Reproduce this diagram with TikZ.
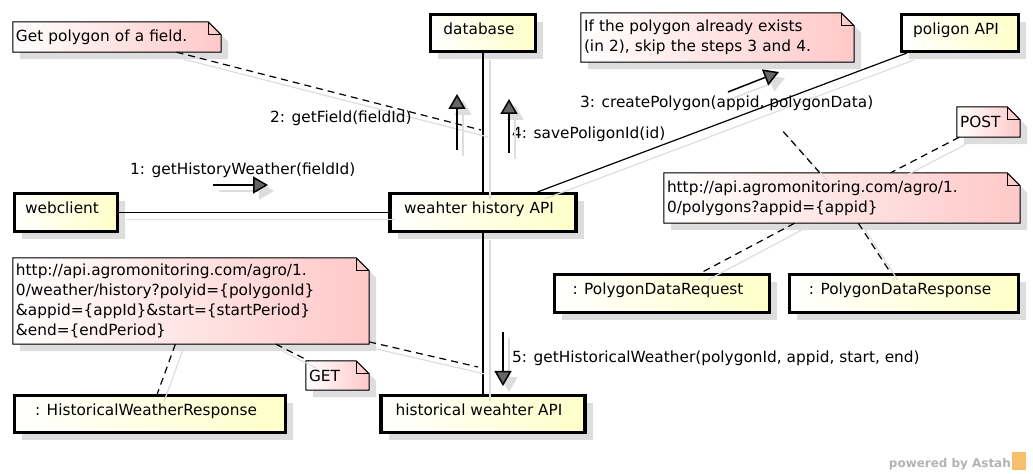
\documentclass[tikz,border=0pt]{standalone}
\usepackage{fontspec}
\setmainfont{DejaVu Sans}
\usetikzlibrary{arrows.meta,shadows,backgrounds}
\definecolor{objyellow}{RGB}{255,255,200}
\definecolor{notepink}{RGB}{255,200,200}
\definecolor{shadowgray}{RGB}{221,221,221}
\definecolor{logoorange}{RGB}{247,190,110}

% note body with the folded corner (and its shadow), behind the note text
\newcommand{\foldnote}[1]{%
  \begin{scope}[on background layer]
    \fill[shadowgray,transform canvas={shift={(7bp,-7bp)}}] (#1.north west) -- ([xshift=-13bp]#1.north east)
      -- ([yshift=-13bp]#1.north east) -- (#1.south east) -- (#1.south west) -- cycle;
    \filldraw[notebody] (#1.north west) -- ([xshift=-13bp]#1.north east)
      -- ([yshift=-13bp]#1.north east) -- (#1.south east) -- (#1.south west) -- cycle;
    \draw[line width=1bp] ([xshift=-13bp]#1.north east) |- ([yshift=-13bp]#1.north east);
  \end{scope}}

\begin{document}
\begin{tikzpicture}[x=1bp,y=-1bp,
    every node/.style={font=\fontsize{15.4}{20}\selectfont},
    obj/.style={draw,line width=3.2bp,left color=white,right color=objyellow,
      inner sep=0pt,text height=11bp,text depth=8bp,execute at end node=\hspace*{8bp},
      general shadow={fill=shadowgray,shadow xshift=7.5bp,shadow yshift=-7.5bp}},
    note/.style={inner xsep=3bp,inner ysep=0pt,align=left},
    notebody/.style={draw,line width=1bp,left color=white,right color=notepink},
    lbl/.style={anchor=base west,inner sep=0pt},
    link/.style={line width=1.2bp},
    linkshadow/.style={draw=shadowgray,line width=1.2bp,transform canvas={shift={(7bp,-7bp)}}},
    anchorline/.style={line width=1.2bp,dash pattern=on 7bp off 5bp},
    msg/.style={line width=1.5bp,-{Triangle[length=15bp,width=17bp,fill=black!60]}},
    msgshadow/.style={draw=shadowgray,line width=1.5bp,-{Triangle[length=15bp,width=17bp,fill=shadowgray]},
      transform canvas={shift={(6bp,-6bp)}}}]
    \useasboundingbox (0,0) rectangle (1033,474);

    % objects
    \node[obj,minimum width=105bp,minimum height=37bp] (dbase) at (483,33) {database};
    \node[obj,minimum width=117bp,minimum height=37bp] (polyapi) at (960,33) {poligon API};
    \node[obj,minimum width=103bp,minimum height=38bp] (web) at (66,212.5) {webclient};
    \node[obj,minimum width=186bp,minimum height=38bp] (whapi) at (483,212.5) {weahter history API};
    \node[obj,minimum width=204bp,minimum height=37bp] (hwapi) at (483,414) {historical weahter API};
    \node[obj,minimum width=271bp,minimum height=37bp] (hwresp) at (150,414) {: HistoricalWeatherResponse};
    \node[obj,minimum width=215bp,minimum height=38bp] (pdreq) at (662,293.5) {: PolygonDataRequest};
    \node[obj,minimum width=229bp,minimum height=38bp] (pdresp) at (904,293.5) {: PolygonDataResponse};

    % notes
    \node[note,text width=202bp,minimum height=30bp] (nField) at (117,37) {Get polygon of a field.};
    \foldnote{nField}
    \node[note,text width=267bp,minimum height=49bp] (nSkip) at (717.5,37.5)
      {If the polygon already exists\\(in 2), skip the steps 3 and 4.};
    \foldnote{nSkip}
    \node[note,text width=57bp,minimum height=30bp] (nPost) at (988.5,122) {POST};
    \foldnote{nPost}
    \node[note,text width=350bp,minimum height=50bp] (nPolyUrl) at (842,198)
      {http://api.agromonitoring.com/agro/1.\\0/polygons?appid=\{appid\}};
    \foldnote{nPolyUrl}
    \node[note,text width=350bp,minimum height=86bp] (nHistUrl) at (191,301)
      {http://api.agromonitoring.com/agro/1.\\0/weather/history?polyid=\{polygonId\}\\
       \&appid=\{appId\}\&start=\{startPeriod\}\\\&end=\{endPeriod\}};
    \foldnote{nHistUrl}
    \node[note,text width=57bp,minimum height=29bp] (nGet) at (337.5,375.5) {GET};
    \foldnote{nGet}

    % links
    \foreach \a/\b in {web/whapi,dbase/whapi,whapi/hwapi,whapi/polyapi} {
      \draw[linkshadow] (\a) -- (\b);
      \draw[link] (\a) -- (\b);
    }

    % note anchors
    \coordinate (p2) at (481,130);
    \coordinate (p3) at (780,128);
    \coordinate (p5) at (478,367);
    \foreach \a/\b in {nField/p2,nPolyUrl/p3,nPost/nPolyUrl,nPolyUrl/pdreq,nPolyUrl/pdresp,
        nHistUrl/hwresp,nHistUrl/nGet,nHistUrl/p5} {
      \draw[linkshadow] (\a) -- (\b);
      \draw[anchorline] (\a) -- (\b);
    }

    % messages
    \node[lbl] (msg1) at (130,175) {1: getHistoryWeather(fieldId)};
    \node[lbl] (msg2) at (270,123) {2: getField(fieldId)};
    \node[lbl] (msg3) at (580,108) {3: createPolygon(appid, polygonData)};
    \node[lbl] (msg4) at (512,139) {4: savePoligonId(id)};
    \node[lbl] (msg5) at (512,363) {5: getHistoricalWeather(polygonId, appid, start, end)};
    \coordinate (ms1) at (213,185); \coordinate (me1) at (268,185);
    \coordinate (ms2) at (457,150); \coordinate (me2) at (457,94);
    \coordinate (ms3) at (728,92);  \coordinate (me3) at (779,72);
    \coordinate (ms4) at (509,153); \coordinate (me4) at (509,99);
    \coordinate (ms5) at (503,332); \coordinate (me5) at (503,386);
    \foreach \i in {1,...,5} {
      \draw[msgshadow] (ms\i) -- (me\i);
      \draw[msg] (ms\i) -- (me\i);
    }

    \node[anchor=base east,inner sep=0pt,text=black!30,font=\fontsize{12}{12}\selectfont\bfseries]
      (astah) at (1011,467) {powered by Astah};
    \node[fill=logoorange,minimum width=14bp,minimum height=18bp,inner sep=0pt] (logo) at (1019,461) {};
\end{tikzpicture}
\end{document}
